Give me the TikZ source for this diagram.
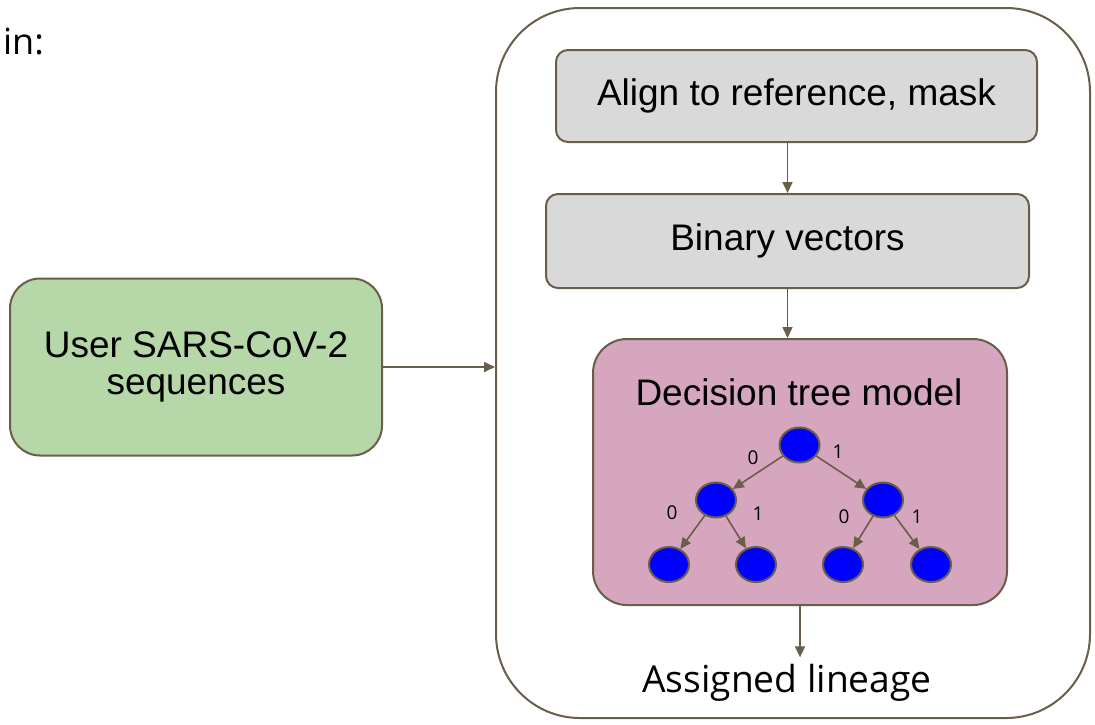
\documentclass[tikz,border=0pt]{standalone}
\usepackage{fontspec}
\setmainfont{Liberation Sans}
\newfontfamily\opensans{Open Sans}
\usetikzlibrary{arrows.meta,shapes.geometric}
\definecolor{myline}{RGB}{104,94,74}
\definecolor{mygreen}{RGB}{182,215,168}
\definecolor{mygray}{RGB}{217,217,217}
\definecolor{mypink}{RGB}{213,166,189}
\definecolor{myblue}{RGB}{0,0,255}

\tikzset{
  box/.style={draw=myline,line width=1pt,align=center,inner sep=0pt,font=\fontsize{18.5}{18.7}\selectfont},
  conn/.style={draw=myline,line width=0.8pt,-{Triangle[length=5.5pt,width=5pt]}},
  treenode/.style={ellipse,draw=myline,line width=1pt,fill=myblue,minimum width=20pt,minimum height=17.5pt,inner sep=0pt},
  treelbl/.style={font=\fontsize{9.5}{11}\selectfont\opensans}
}

\begin{document}
\begin{tikzpicture}[x=0.5pt,y=-0.5pt,line join=round]
        \useasboundingbox (0,0) rectangle (1095,724);
        \node[anchor=west,font=\fontsize{18}{22}\selectfont\opensans] (inlbl) at (-4,42) {in:};
        % outer frame
        \node[box,rounded corners=42pt,minimum width=297pt,minimum height=355pt] (frame) at (793,363) {};
        \node[box,fill=mygreen,rounded corners=15pt,minimum width=186pt,minimum height=88.5pt] (user) at (196,367) {User SARS-CoV-2\\sequences};
        \node[box,fill=mygray,rounded corners=6pt,minimum width=240.5pt,minimum height=46pt] (align) at (796.5,96) {Align to reference, mask};
        \node[box,fill=mygray,rounded corners=6pt,minimum width=241.5pt,minimum height=47pt] (binary) at (787.5,241) {Binary vectors};
        \node[box,fill=mypink,rounded corners=17pt,minimum width=207pt,minimum height=133pt] (model) at (800,472) {};
        \node[font=\fontsize{18.5}{20}\selectfont] (modeltitle) at (799,392) {Decision tree model};
        \node[font=\fontsize{18.6}{22}\selectfont\opensans] (lineage) at (787,683) {Assigned lineage};
        % connectors
        \draw[conn] (user.east) -- (user.east -| frame.west);
        \draw[conn] (align.south -| binary.north) -- (binary.north);
        \draw[conn] (binary.south) -- (binary.south |- model.north);
        \draw[conn] (model.south) -- (model.south |- lineage.north);
        % tree
        \node[treenode] (root) at (799.5,445) {};
        \node[treenode] (n0) at (716,500) {};
        \node[treenode] (n1) at (883,500) {};
        \foreach \name/\x in {n00/669,n01/756,n10/843,n11/931}
          \node[treenode] (\name) at (\x,564.5) {};
        \foreach \a/\b in {root/n0,root/n1,n0/n00,n0/n01,n1/n10,n1/n11}
          \draw[conn] (\a) -- (\b);
        \foreach \x/\y/\t in {753/458/0,838/452/1,672/513/0,758/514/1,844/517/0,917/517/1}
          \node[treelbl] at (\x,\y) {\t};
      \end{tikzpicture}
\end{document}
